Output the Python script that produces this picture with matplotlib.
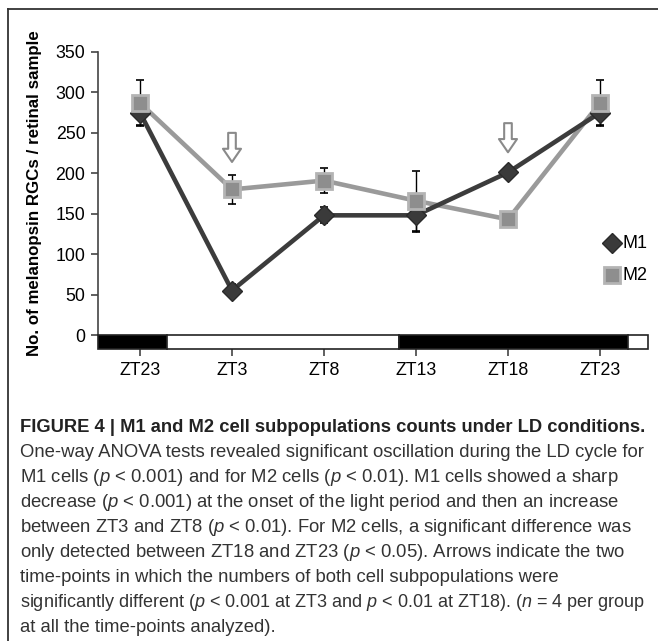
import matplotlib
matplotlib.use("Agg")
import matplotlib.pyplot as plt
from matplotlib import font_manager
from matplotlib.patches import Rectangle, FancyArrowPatch
from matplotlib.lines import Line2D
import matplotlib.transforms as mtransforms

# ---------------- data ----------------
categories = ["ZT23", "ZT3", "ZT8", "ZT13", "ZT18", "ZT23"]
m1_values = [275, 55, 148, 148, 201, 275]
m1_errors = [15, 8, 10, 20, 5, 15]
m2_values = [287, 180, 191, 166, 143, 287]
m2_errors = [28, 18, 15, 37, 5, 28]
yticks = [0, 50, 100, 150, 200, 250, 300, 350]
# light/dark bar: (start, end, is_dark) in category-position units
ld_segments = [(-0.4565, 0.29, True), (0.29, 2.82, False),
               (2.82, 5.30, True), (5.30, 5.522, False)]
arrow_x = [1, 4]
arrow_tops = [250, 262]
arrow_tips = [214, 226]

caption_title = "FIGURE 4 | M1 and M2 cell subpopulations counts under LD conditions."
caption_lines = [
    r"One-way ANOVA tests revealed significant oscillation during the LD cycle for",
    r"M1 cells ($p$ < 0.001) and for M2 cells ($p$ < 0.01). M1 cells showed a sharp",
    r"decrease ($p$ < 0.001) at the onset of the light period and then an increase",
    r"between ZT3 and ZT8 ($p$ < 0.01). For M2 cells, a significant difference was",
    r"only detected between ZT18 and ZT23 ($p$ < 0.05). Arrows indicate the two",
    r"time-points in which the numbers of both cell subpopulations were",
    r"significantly different ($p$ < 0.001 at ZT3 and $p$ < 0.01 at ZT18). ($n$ = 4 per group",
    r"at all the time-points analyzed).",
]

# ---------------- fonts ----------------
avail = {f.name for f in font_manager.fontManager.ttflist}
narrow = "Liberation Sans Narrow" if "Liberation Sans Narrow" in avail else "Liberation Sans"
cap_size = 12.6 if narrow == "Liberation Sans Narrow" else 13.3
plt.rcParams["font.family"] = ["Liberation Sans", "DejaVu Sans"]
plt.rcParams["mathtext.fontset"] = "custom"
plt.rcParams["mathtext.rm"] = narrow
plt.rcParams["mathtext.it"] = narrow + ":italic"

W, H = 658, 641
fig = plt.figure(figsize=(W / 100, H / 100), dpi=100)

def fx(px):
    return px / W

def fy(py):
    return 1 - py / H

ax = fig.add_axes([fx(98), fy(335), fx(648) - fx(98), fy(52) - fy(335)])
x = list(range(len(categories)))

ax.plot(x, m2_values, color="#9a9a9a", lw=3.3, zorder=2)
ax.plot(x, m1_values, color="#3c3c3c", lw=3.3, zorder=3)
ax.errorbar(x, m2_values, yerr=m2_errors, fmt="none", ecolor="black",
            elinewidth=1, capsize=3, capthick=1.2, zorder=1)
ax.errorbar(x, m1_values, yerr=m1_errors, fmt="none", ecolor="black",
            elinewidth=1, capsize=3, capthick=1.2, zorder=1)
ax.plot(x, m1_values, ls="none", marker="D", ms=10, mfc="#3a3a3a",
        mec="#2a2a2a", mew=1, zorder=4)
ax.plot(x, m2_values, ls="none", marker="s", ms=12, mfc="#8e8e8e",
        mec="#b4b4b4", mew=2, zorder=5)

ax.set_xlim(ld_segments[0][0], ld_segments[-1][1])
ax.set_ylim(0, 350)
ax.set_yticks(yticks)
ax.set_xticks(x)
ax.set_xticklabels(categories)
for s in ["top", "right"]:
    ax.spines[s].set_visible(False)
ax.spines["left"].set_color("#444444")
ax.spines["left"].set_linewidth(1.2)
ax.spines["bottom"].set_position(("outward", 10.3))
ax.spines["bottom"].set_visible(False)
ax.tick_params(axis="y", length=5, width=1.2, color="#444444", pad=4, labelsize=12.8)
ax.tick_params(axis="x", length=5, width=1.2, color="#444444", pad=4, labelsize=12.8)

trans = mtransforms.blended_transform_factory(ax.transData, ax.transAxes)
bar_h = 14 / (335 - 52)
for (a, b, dark) in ld_segments:
    ax.add_patch(Rectangle((a, -bar_h), b - a, bar_h, transform=trans,
                           facecolor="black" if dark else "white",
                           edgecolor="#222222", lw=1.2, clip_on=False, zorder=6))

for xa, yt, yb in zip(arrow_x, arrow_tops, arrow_tips):
    ax.add_patch(FancyArrowPatch((xa, yt), (xa, yb),
                                 arrowstyle="simple,head_width=13,head_length=9.5,tail_width=5.5",
                                 mutation_scale=1, shrinkA=0, shrinkB=0,
                                 facecolor="white", edgecolor="#8a8a8a", lw=1.5, zorder=7))

fig.text(fx(35), fy(193), "No. of melanopsin RGCs / retinal sample", rotation=90,
         ha="center", va="center", fontsize=12.2, fontweight="bold")

# legend (manual, placed in figure coords)
fig.lines.append(Line2D([fx(612)], [fy(243)], transform=fig.transFigure, ls="none",
                        marker="D", ms=10, mfc="#3a3a3a", mec="#2a2a2a"))
fig.lines.append(Line2D([fx(612)], [fy(275)], transform=fig.transFigure, ls="none",
                        marker="s", ms=12, mfc="#8e8e8e", mec="#b4b4b4", mew=2))
fig.text(fx(622), fy(243), "M1", fontsize=13, va="center", ha="left")
fig.text(fx(622), fy(275), "M2", fontsize=13, va="center", ha="left")

# outer box lines
fig.lines.append(Line2D([fx(8), 1], [fy(9), fy(9)], transform=fig.transFigure,
                        color="#333333", lw=1.3))
fig.lines.append(Line2D([fx(8), fx(8)], [fy(9), 0], transform=fig.transFigure,
                        color="#333333", lw=1.3))

# caption
caption_texts = []
caption_texts.append(fig.text(fx(20), fy(431.5), caption_title, fontsize=cap_size - 0.1,
                              fontweight="bold", family=[narrow, "DejaVu Sans"],
                              va="baseline", ha="left", color="#222222"))
for i, line in enumerate(caption_lines):
    caption_texts.append(fig.text(fx(20), fy(457 + 25.0 * i), line, fontsize=cap_size,
                                  family=[narrow, "DejaVu Sans"], va="baseline",
                                  ha="left", color="#333333"))

# shrink any caption line that would run past the right margin
renderer = fig.canvas.get_renderer()
max_right = 648
for t in caption_texts:
    bb = t.get_window_extent(renderer=renderer)
    if bb.x1 > max_right:
        t.set_fontsize(t.get_fontsize() * (max_right - bb.x0) / (bb.x1 - bb.x0))

fig.savefig("out.png", dpi=100)
